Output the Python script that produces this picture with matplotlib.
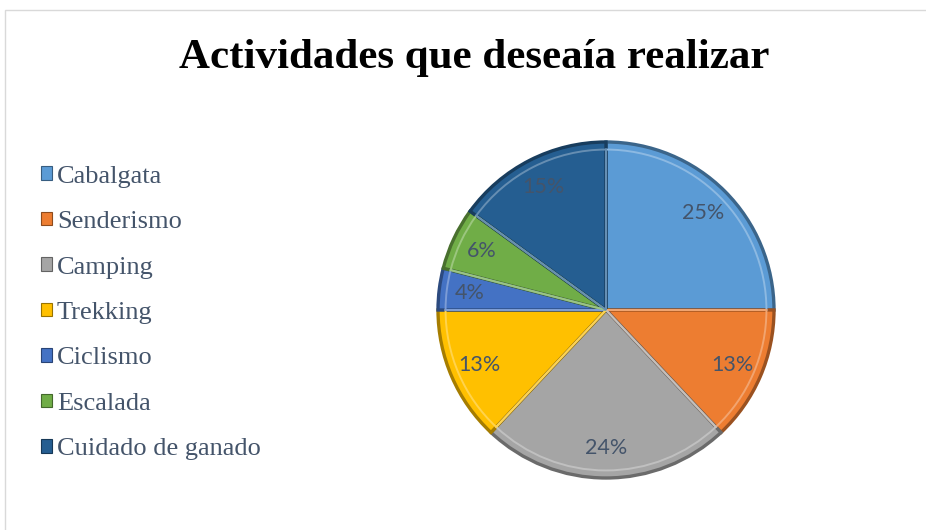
import matplotlib
matplotlib.use("Agg")
import matplotlib.pyplot as plt
from matplotlib.patches import Rectangle, Patch
import matplotlib.colors as mcolors

categories = ["Cabalgata", "Senderismo", "Camping", "Trekking", "Ciclismo", "Escalada", "Cuidado de ganado"]
values = [25, 13, 24, 13, 4, 6, 15]
colors = ["#5B9BD5", "#ED7D31", "#A5A5A5", "#FFC000", "#4472C4", "#70AD47", "#255E91"]
title = "Actividades que deseaía realizar"

W, H = 926, 530
fig = plt.figure(figsize=(W / 100, H / 100), dpi=100)
fig.patch.set_facecolor("white")

# outer chart frame
fig.patches.append(Rectangle((5 / W, -0.01), 1.0, 1 - 10 / H + 0.01, transform=fig.transFigure,
                             fill=False, edgecolor="#D9D9D9", linewidth=1.0))

def darker(c, f=0.7):
    r, g, b = mcolors.to_rgb(c)
    return (r * f, g * f, b * f)

def lighter(c, f=0.35):
    r, g, b = mcolors.to_rgb(c)
    return (r + (1 - r) * f, g + (1 - g) * f, b + (1 - b) * f)

cx, cy, R = 606, 310, 168
ax = fig.add_axes([(cx - R) / W, (H - cy - R) / H, 2 * R / W, 2 * R / H])
ax.axis("off")

wedges, texts, autotexts = ax.pie(
    values, colors=colors, startangle=90, counterclock=False, radius=1.0,
    autopct=lambda p: f"{p:.0f}%", pctdistance=0.82,
    wedgeprops=dict(linewidth=2.0, edgecolor="none"),
    textprops=dict(color="#44546A", fontsize=15.5, family=["Lato", "DejaVu Sans"]))
for w, c in zip(wedges, colors):
    w.set_edgecolor(darker(c, 0.65))
    w.set_linewidth(2.4)
    w.set_joinstyle("miter")

# inner bevel highlight
inner, _ = ax.pie(values, colors=["none"] * len(values), startangle=90, counterclock=False,
                  radius=0.955, wedgeprops=dict(linewidth=1.4, fill=False))
for w, c in zip(inner, colors):
    w.set_edgecolor(lighter(c, 0.3))
for t in autotexts:
    t.set_zorder(5)
ax.set_xlim(-1, 1)
ax.set_ylim(-1, 1)
ax.set_aspect("equal")

fig.text(474 / W, 1 - 58 / H, title, ha="center", va="center", fontsize=31,
         fontweight="bold", family=["Liberation Serif", "DejaVu Serif"], color="black")

handles = [Patch(facecolor=c, edgecolor=darker(c, 0.6), linewidth=0.8) for c in colors]
fig.legend(handles, categories, loc="upper left", bbox_to_anchor=(30 / W, 1 - 155 / H),
           frameon=False, handlelength=0.42, handleheight=0.42,
           handletextpad=0.2, labelspacing=0.89, borderaxespad=0,
           prop=dict(family=["Liberation Serif", "DejaVu Serif"], size=19),
           labelcolor="#44546A")

fig.savefig("out.png", dpi=100, facecolor="white")
